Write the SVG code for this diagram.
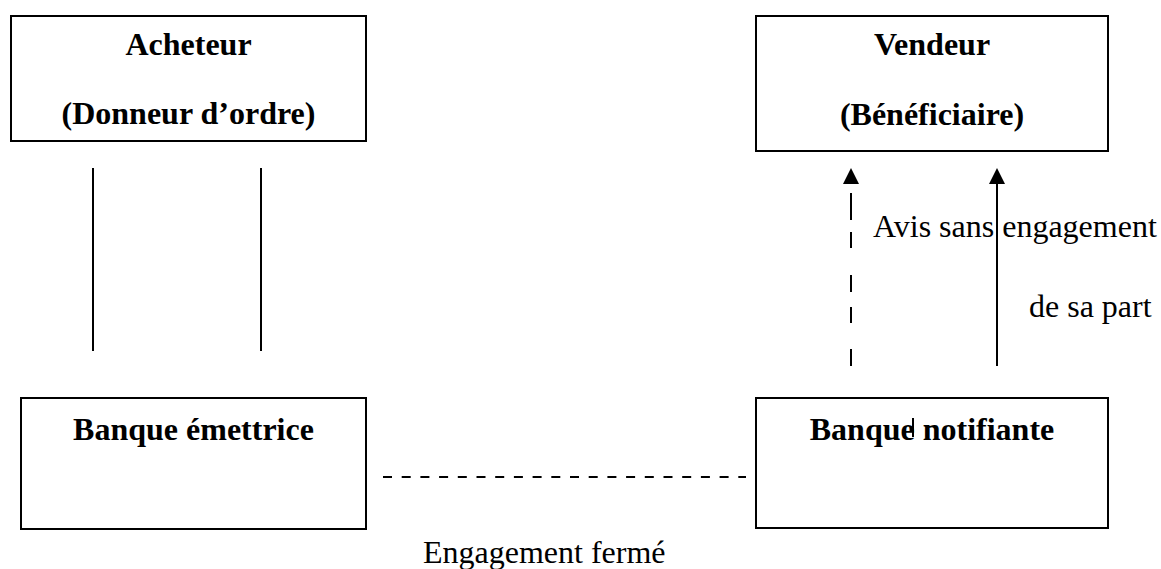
<svg xmlns="http://www.w3.org/2000/svg" width="1161" height="569" viewBox="0 0 1161 569">
  <style>
    .box { fill: #ffffff; stroke: #000000; stroke-width: 2; }
    .title { font-family: "Liberation Serif", "Times New Roman", serif; font-size: 32px; font-weight: bold; fill: #000000; text-anchor: middle; }
    .label { font-family: "Liberation Serif", "Times New Roman", serif; font-size: 32px; fill: #000000; }
    .line { stroke: #000000; stroke-width: 2; fill: none; }
    .dashed-h { stroke: #000000; stroke-width: 2.2; fill: none; stroke-dasharray: 9 9.7; }
    .head { fill: #000000; }
  </style>
  <rect width="1161" height="569" fill="#ffffff"/>

  <!-- Parties -->
  <g id="acheteur">
    <rect class="box" x="11" y="16" width="355" height="125"/>
    <text class="title" x="188.5" y="55">Acheteur</text>
    <text class="title" x="188.5" y="124">(Donneur d’ordre)</text>
  </g>
  <g id="vendeur">
    <rect class="box" x="756" y="16" width="352" height="135"/>
    <text class="title" x="932" y="55">Vendeur</text>
    <text class="title" x="932" y="125">(Bénéficiaire)</text>
  </g>
  <g id="banque-emettrice">
    <rect class="box" x="21" y="398" width="345" height="131"/>
    <text class="title" x="193.5" y="440">Banque émettrice</text>
  </g>
  <g id="banque-notifiante">
    <rect class="box" x="756" y="398" width="352" height="130"/>
    <text class="title" x="932" y="440">Banque notifiante</text>
    <line class="line" x1="913" y1="418" x2="913" y2="437" stroke-width="1.5"/>
  </g>

  <!-- Connectors -->
  <g id="connectors">
    <line class="line" x1="93" y1="168" x2="93" y2="351"/>
    <line class="line" x1="261" y1="168" x2="261" y2="351"/>

    <line class="dashed-h" x1="383" y1="477" x2="746" y2="477"/>

    <!-- dashed notice arrow -->
    <path class="line" d="M851 193 V220 M851 232 V248 M851 275 V292 M851 307 V323 M851 349 V366"/>
    <polygon class="head" points="851,168 843,184 859,184"/>

    <!-- solid arrow -->
    <line class="line" x1="997" y1="182" x2="997" y2="366"/>
    <polygon class="head" points="997,168 989,184 1005,184"/>
  </g>

  <!-- Labels -->
  <g id="labels">
    <text class="label" x="873" y="237">Avis sans engagement</text>
    <text class="label" x="1029" y="317">de sa part</text>
    <text class="label" x="423" y="563">Engagement fermé</text>
  </g>
</svg>
